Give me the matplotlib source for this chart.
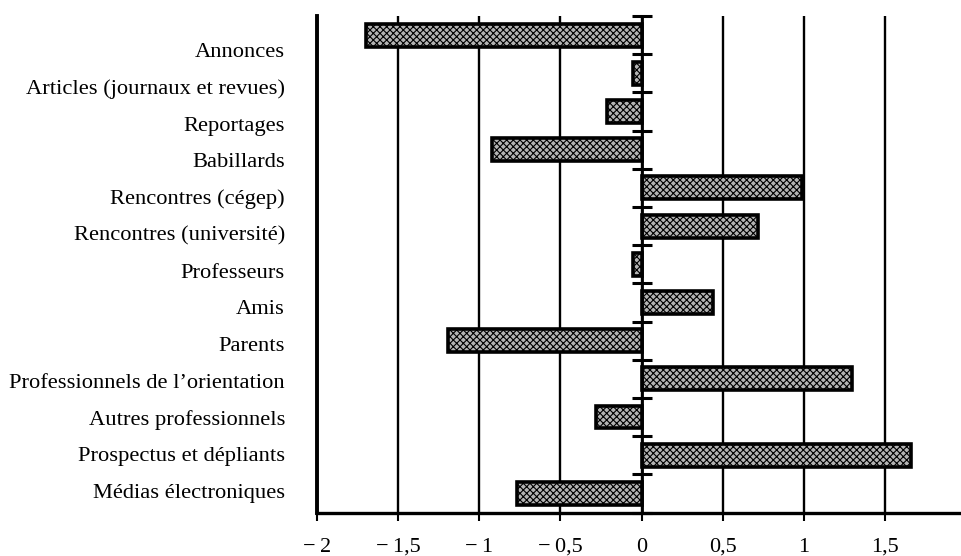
"""Horizontal bar chart of information sources (scores from -2 to 2)."""

import matplotlib

matplotlib.use("Agg")
import matplotlib.pyplot as plt
import numpy as np

plt.rcParams["font.family"] = ["Liberation Serif", "DejaVu Serif"]
plt.rcParams["hatch.linewidth"] = 0.8

sources = [
    "Annonces",
    "Articles (journaux et revues)",
    "Reportages",
    "Babillards",
    "Rencontres (cégep)",
    "Rencontres (université)",
    "Professeurs",
    "Amis",
    "Parents",
    "Professionnels de l\u2019orientation",
    "Autres professionnels",
    "Prospectus et dépliants",
    "Médias électroniques",
]
scores = [-1.70, -0.05, -0.21, -0.92, 0.99, 0.72, -0.05, 0.44, -1.19, 1.30, -0.28, 1.66, -0.77]

x_ticks = [-2, -1.5, -1, -0.5, 0, 0.5, 1, 1.5, 2]
x_tick_labels = ["\u2212\u20092", "\u2212\u20091,5", "\u2212\u20091", "\u2212\u20090,5",
                 "0", "0,5", "1", "1,5", "2"]

W, H = 961, 556
fig = plt.figure(figsize=(W / 100, H / 100), dpi=100)

# main plotting area: x = -2 at 317 px, x = 2 at 966 px (just past the page edge)
ax = fig.add_axes([317 / W, 43.5 / H, 649 / W, 496.5 / H])
pos = np.arange(len(sources))
ax.barh(pos, scores, height=0.6, facecolor="#b4b4b4", edgecolor="black",
        linewidth=2.6, hatch="xxxxx", zorder=3)

ax.set_xlim(-2, 2)
ax.set_ylim(len(sources) - 0.5, -0.5)
ax.set_xticks(x_ticks)
ax.set_xticklabels(x_tick_labels, fontsize=16)
ax.tick_params(axis="x", direction="out", length=6, width=1.5, pad=12)
ax.grid(axis="x", color="black", linewidth=1.7, zorder=1)
ax.axvline(-2, color="black", linewidth=2.8, clip_on=False, zorder=2)

# vertical axis through zero, with dashes between the categories
ax.spines["left"].set_position(("data", 0))
ax.spines["left"].set_linewidth(2)
ax.spines["left"].set_zorder(4)
ax.set_yticks(np.arange(-0.5, len(sources), 1))
ax.set_yticklabels([])
ax.tick_params(axis="y", direction="inout", length=15, width=2.2)
ax.spines["bottom"].set_linewidth(2.4)
ax.spines["top"].set_visible(False)
ax.spines["right"].set_visible(False)

# category names, set on their own slightly tighter spacing as in the print
lab = fig.add_axes([317 / W, 46.6 / H, 649 / W, 477.75 / H])
lab.patch.set_visible(False)
for s in lab.spines.values():
    s.set_visible(False)
lab.set_ylim(len(sources) - 0.5, -0.5)
lab.set_yticks(pos)
lab.set_yticklabels(sources, fontsize=16.2)
lab.set_xticks([])
lab.tick_params(axis="y", length=0, pad=23)

fig.savefig("out.png", dpi=100)
